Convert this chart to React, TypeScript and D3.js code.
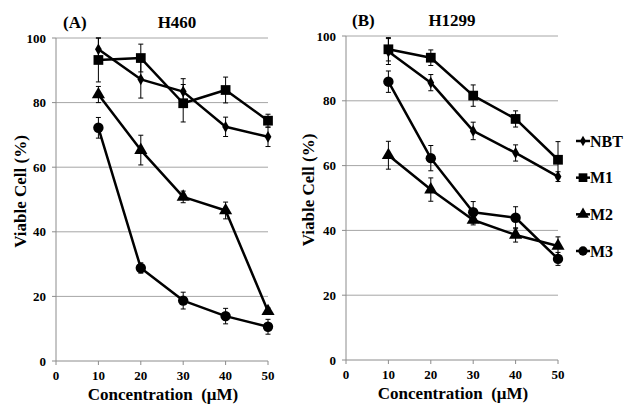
import * as d3 from "d3";

const conc = [10, 20, 30, 40, 50];
const seriesNames = ["NBT", "M1", "M2", "M3"];

// H460
const h460NBT = [96.5, 87.2, 83.4, 72.5, 69.4];
const h460NBTErr = [3.5, 5.8, 4.0, 3.0, 3.0];
const h460M1 = [93.2, 93.8, 79.8, 83.9, 74.4];
const h460M1Err = [6.8, 4.3, 5.8, 4.0, 2.0];
const h460M2 = [82.5, 65.3, 50.8, 46.6, 15.4];
const h460M2Err = [2.5, 4.6, 1.8, 2.6, 1.0];
const h460M3 = [72.2, 28.8, 18.7, 13.9, 10.6];
const h460M3Err = [3.2, 1.6, 2.6, 2.4, 2.3];

// H1299
const h1299NBT = [95.2, 85.6, 70.7, 63.9, 56.6];
const h1299NBTErr = [4.0, 2.5, 2.7, 2.5, 1.5];
const h1299M1 = [95.9, 93.3, 81.6, 74.4, 61.8];
const h1299M1Err = [3.6, 2.4, 3.3, 2.5, 5.6];
const h1299M2 = [63.2, 52.6, 43.2, 38.6, 35.2];
const h1299M2Err = [4.3, 3.6, 1.5, 2.2, 2.8];
const h1299M3 = [85.9, 62.3, 45.6, 43.9, 31.2];
const h1299M3Err = [3.3, 3.9, 3.3, 3.4, 2.0];

const xTicks = [0, 10, 20, 30, 40, 50];
const yTicks = [0, 20, 40, 60, 80, 100];

const serif = { fontFamily: "Liberation Serif, DejaVu Serif, serif", fontWeight: "bold" as const };
const symbols = [d3.symbolDiamond, d3.symbolSquare, d3.symbolTriangle, d3.symbolCircle];
const symbolSizes = [40, 95, 75, 85];

type PanelProps = {
  left: number;
  right: number;
  top: number;
  bottom: number;
  tag: string;
  title: string;
  tagX: number;
  titleX: number;
  labelX: number;
  series: number[][];
  errors: number[][];
};

function Panel({ left, right, top, bottom, tag, title, tagX, titleX, labelX, series, errors }: PanelProps) {
  const x = d3.scaleLinear().domain([0, 50]).range([left, right]);
  const y = d3.scaleLinear().domain([0, 100]).range([bottom, top]);
  const line = d3
    .line<number>()
    .x((_, i) => x(conc[i]))
    .y((d) => y(d));

  return (
    <g>
      <text x={tagX} y={top - 10} style={{ ...serif, fontSize: 17 }}>
        {tag}
      </text>
      <text x={titleX} y={top - 10} textAnchor="middle" style={{ ...serif, fontSize: 17 }}>
        {title}
      </text>
      {yTicks.map((t) => (
        <g key={t}>
          {t > 0 && <line x1={left} x2={right} y1={y(t)} y2={y(t)} stroke="#a6a6a6" strokeWidth={1} />}
          <line x1={left - 4} x2={left} y1={y(t)} y2={y(t)} stroke="#8c8c8c" />
          <text x={left - 10} y={y(t)} dy="0.35em" textAnchor="end" style={{ ...serif, fontSize: 13 }}>
            {t}
          </text>
        </g>
      ))}
      <line x1={left} x2={left} y1={top} y2={bottom} stroke="#8c8c8c" />
      <line x1={left} x2={right} y1={bottom} y2={bottom} stroke="#8c8c8c" />
      {xTicks.map((t) => (
        <g key={t}>
          <line x1={x(t)} x2={x(t)} y1={bottom} y2={bottom + 4} stroke="#8c8c8c" />
          <text x={x(t)} y={bottom + 19} textAnchor="middle" style={{ ...serif, fontSize: 13 }}>
            {t}
          </text>
        </g>
      ))}
      <text
        x={(left + right) / 2 + 1}
        y={bottom + 39}
        textAnchor="middle"
        style={{ ...serif, fontSize: 17, whiteSpace: "pre" }}
      >
        {"Concentration  (μM)"}
      </text>
      <text
        transform={`translate(${labelX},${(top + bottom) / 2 - 8}) rotate(-90)`}
        textAnchor="middle"
        style={{ ...serif, fontSize: 17 }}
      >
        Viable Cell (%)
      </text>
      {series.map((vals, s) => (
        <g key={s}>
          <path d={line(vals) ?? ""} fill="none" stroke="#000" strokeWidth={2.5} strokeLinejoin="round" />
          {vals.map((v, i) => (
            <g key={i}>
              <line x1={x(conc[i])} x2={x(conc[i])} y1={y(v - errors[s][i])} y2={y(v + errors[s][i])} stroke="#000" strokeWidth={1} />
              <line x1={x(conc[i]) - 2.5} x2={x(conc[i]) + 2.5} y1={y(v + errors[s][i])} y2={y(v + errors[s][i])} stroke="#000" strokeWidth={1} />
              <line x1={x(conc[i]) - 2.5} x2={x(conc[i]) + 2.5} y1={y(v - errors[s][i])} y2={y(v - errors[s][i])} stroke="#000" strokeWidth={1} />
              <path
                transform={`translate(${x(conc[i])},${y(v)})`}
                d={d3.symbol(symbols[s], symbolSizes[s])() ?? ""}
                fill="#000"
              />
            </g>
          ))}
        </g>
      ))}
    </g>
  );
}

export default function App() {
  const legendY = d3.scalePoint<string>().domain(seriesNames).range([141, 251]);
  return (
    <svg width={625} height={405} style={{ position: "absolute", left: 0, top: 0, background: "#fff" }}>
      <Panel
        left={56}
        right={268}
        top={38}
        bottom={361}
        tag="(A)"
        title="H460"
        tagX={63}
        titleX={177}
        labelX={26}
        series={[h460NBT, h460M1, h460M2, h460M3]}
        errors={[h460NBTErr, h460M1Err, h460M2Err, h460M3Err]}
      />
      <Panel
        left={346}
        right={558}
        top={36}
        bottom={360}
        tag="(B)"
        title="H1299"
        tagX={352}
        titleX={452}
        labelX={314}
        series={[h1299NBT, h1299M1, h1299M2, h1299M3]}
        errors={[h1299NBTErr, h1299M1Err, h1299M2Err, h1299M3Err]}
      />
      {seriesNames.map((name, s) => {
        const ly = legendY(name) ?? 0;
        return (
          <g key={name}>
            <line x1={576} x2={590} y1={ly} y2={ly} stroke="#000" strokeWidth={2.5} />
            <path
              transform={`translate(583,${ly})`}
              d={d3.symbol(symbols[s], symbolSizes[s] * 0.8)() ?? ""}
              fill="#000"
            />
            <text x={590} y={ly} dy="0.35em" style={{ ...serif, fontSize: 16 }}>
              {name}
            </text>
          </g>
        );
      })}
    </svg>
  );
}
